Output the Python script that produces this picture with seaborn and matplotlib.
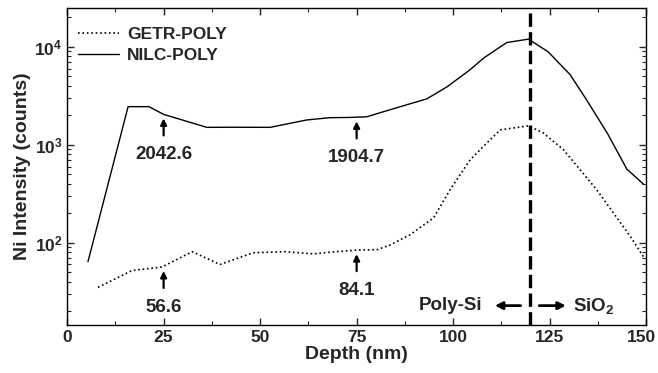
import numpy as np
import pandas as pd
import matplotlib
matplotlib.use("Agg")
import matplotlib.pyplot as plt
import matplotlib.transforms as mtransforms
import seaborn as sns

# ---- data ----
nilc_depth = [5.4, 15.8, 21.2, 25.0, 36.2, 43.0, 52.6, 62.0, 68.0, 73.0, 77.6, 85.4, 93.2,
              98.4, 104.4, 107.9, 113.9, 119.5, 124.6, 130.3, 134.5, 140.0, 145.0, 149.3]
nilc_vals = [64, 2450, 2450, 2043, 1506, 1510, 1506, 1790, 1890, 1900, 1930, 2390, 2945,
             3900, 5840, 7680, 11060, 11970, 8900, 5200, 2900, 1300, 564, 397]

getr_depth = [8.0, 16.8, 24.6, 32.4, 39.6, 48.2, 56.5, 63.8, 68.1, 75.0, 80.3, 83.7, 88.9,
              94.9, 99.2, 104.4, 109.6, 112.2, 119.5, 123.3, 128.6, 137.2, 145.9, 149.5]
getr_vals = [35, 52, 56.6, 81, 60, 79, 81, 77, 80, 84.1, 85, 95, 121,
             179, 347, 703, 1127, 1420, 1560, 1325, 889, 347, 116, 70]

annot_x = [25, 75, 25, 75]
annot_val = [2042.6, 1904.7, 56.6, 84.1]
annot_txt = ["2042.6", "1904.7", "56.6", "84.1"]

interface_x = 120
x_ticks = [0, 25, 50, 75, 100, 125, 150]

df = pd.DataFrame({
    "Depth": nilc_depth + getr_depth,
    "Intensity": nilc_vals + getr_vals,
    "Sample": ["NILC-POLY"] * len(nilc_depth) + ["GETR-POLY"] * len(getr_depth),
})

sns.set_style("ticks")
plt.rcParams["font.family"] = ["Liberation Sans", "DejaVu Sans"]
plt.rcParams["font.weight"] = "bold"
plt.rcParams["axes.labelweight"] = "bold"
plt.rcParams["mathtext.fontset"] = "custom"
plt.rcParams["mathtext.rm"] = "Liberation Sans:bold"
plt.rcParams["mathtext.bf"] = "Liberation Sans:bold"
plt.rcParams["mathtext.default"] = "regular"

fig = plt.figure(figsize=(6.58, 3.73), dpi=100)
ax = fig.add_axes([0.102, 0.129, 0.880, 0.850])

sns.lineplot(data=df[df.Sample == "GETR-POLY"], x="Depth", y="Intensity", ax=ax,
             color="black", lw=1.2, linestyle=":", label="GETR-POLY", sort=False)
sns.lineplot(data=df[df.Sample == "NILC-POLY"], x="Depth", y="Intensity", ax=ax,
             color="black", lw=1.0, linestyle="-", label="NILC-POLY", sort=False)

ax.set_yscale("log")
ax.set_xlim(0, 150)
ax.set_ylim(14.5, 25000)
ax.set_xticks(x_ticks)
ax.set_xticks(np.arange(0, 151, 12.5), minor=True)
ax.tick_params(which="both", direction="in", top=True, right=True, labelsize=12.5)
ax.tick_params(which="major", length=5, width=1)
ax.tick_params(which="minor", length=3, width=0.8)
for lbl in ax.get_xticklabels() + ax.get_yticklabels():
    lbl.set_fontweight("bold")
# keep the last x tick label inside the figure, as in the reference
last = ax.get_xticklabels()[-1]
last.set_transform(last.get_transform() + mtransforms.ScaledTranslation(-5 / 100, 0, fig.dpi_scale_trans))
for s in ax.spines.values():
    s.set_color("black")
    s.set_linewidth(1.0)

ax.set_xlabel("Depth (nm)", fontsize=14, fontweight="bold", labelpad=1)
ax.set_ylabel("Ni Intensity (counts)", fontsize=14, fontweight="bold", labelpad=2)

ax.axvline(interface_x, color="black", lw=2.4, linestyle=(0, (4, 1.6)))

# arrows and values
for xv, val, txt in zip(annot_x, annot_val, annot_txt):
    ax.annotate("", xy=(xv, val * 0.91), xytext=(xv, val * 0.61),
                arrowprops=dict(arrowstyle="-|>", color="black", lw=1.6, mutation_scale=9,
                                shrinkA=0, shrinkB=0))
    ax.text(xv, val * 0.39, txt, ha="center", va="center", fontsize=13.5, fontweight="bold")

# Poly-Si / SiO2
y_lab = 22.8
ax.text(107.5, y_lab, "Poly-Si", ha="right", va="center", fontsize=13.5, fontweight="bold")
ax.annotate("", xy=(110.8, y_lab), xytext=(117.5, y_lab),
            arrowprops=dict(arrowstyle="-|>", color="black", lw=2.0, mutation_scale=11,
                            shrinkA=0, shrinkB=0))
ax.annotate("", xy=(129.2, y_lab), xytext=(122.3, y_lab),
            arrowprops=dict(arrowstyle="-|>", color="black", lw=2.0, mutation_scale=11,
                            shrinkA=0, shrinkB=0))
ax.text(131.1, y_lab, r"SiO$_2$", ha="left", va="center", fontsize=13.5, fontweight="bold")

leg = ax.legend(loc="upper left", bbox_to_anchor=(0.0, 0.972), frameon=False, fontsize=12.5,
                handlelength=2.4, handletextpad=0.45, labelspacing=0.3, borderaxespad=0.3,
                borderpad=0.3)
for t in leg.get_texts():
    t.set_fontweight("bold")

fig.savefig("out.png", dpi=100)
